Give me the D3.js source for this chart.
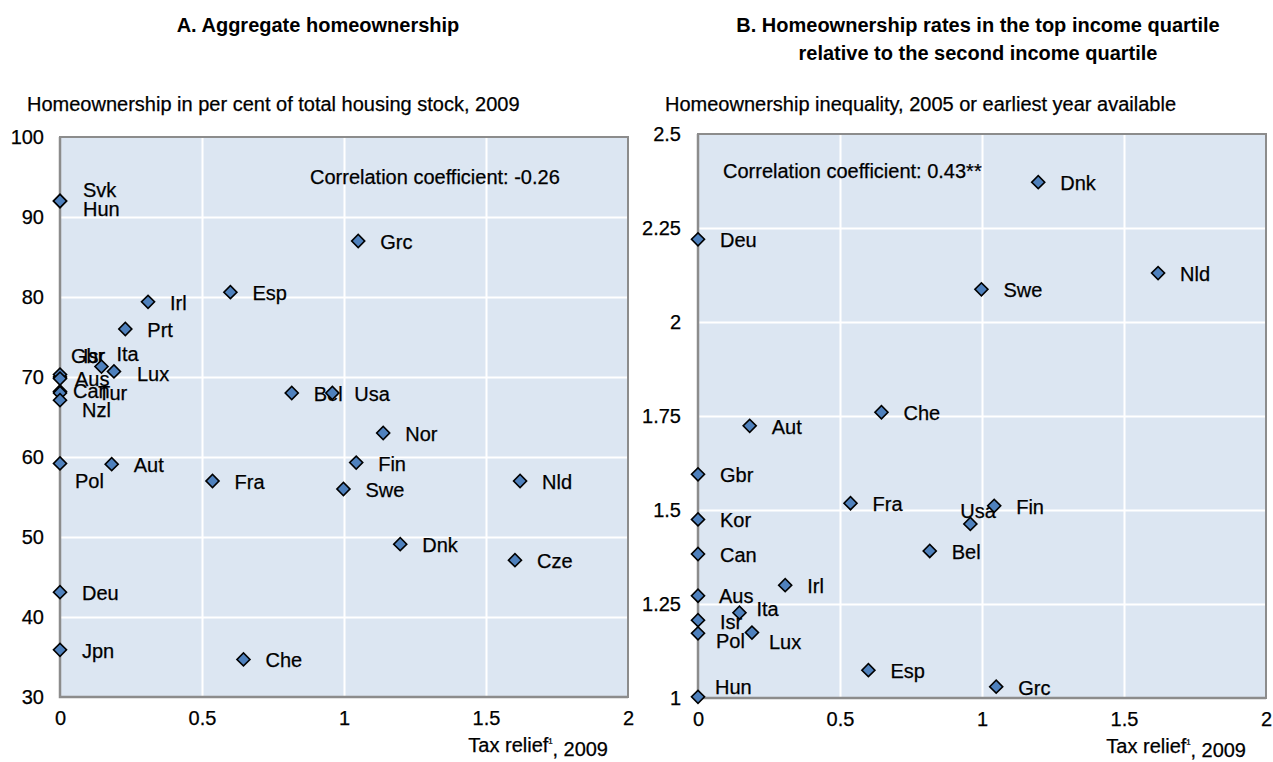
<!DOCTYPE html>
<html>
<head>
<meta charset="utf-8">
<script src="https://cdn.jsdelivr.net/npm/d3@7"></script>
<style>
    body { margin: 0; background: #fff; }
    svg { display: block; font-family: 'Liberation Sans', Arial, sans-serif; }
    .grid line { stroke: #fff; stroke-width: 2; }
    .grid .domain, .ticks .domain { display: none; }
    .ticks text { fill: #000; stroke: #000; stroke-width: 0.25; }
    .label { font-size: 20px; fill: #000; stroke: #000; stroke-width: 0.25; }
    .title { font-size: 20px; font-weight: bold; text-anchor: middle; }
    .ytitle, .xtitle, .corr { font-size: 20px; stroke: #000; stroke-width: 0.25; }
</style>
</head>
<body>
<svg id="chart" width="1273" height="762"></svg>
<script>
const xTicks = [0, 0.5, 1, 1.5, 2];

// Panel A: homeownership 2009 vs tax relief
const countriesA = ['Svk', 'Hun', 'Grc', 'Esp', 'Irl', 'Prt', 'Gbr', 'Isr', 'Aus', 'Ita', 'Lux', 'Can', 'Tur', 'Nzl',
    'Bel', 'Usa', 'Nor', 'Pol', 'Aut', 'Fin', 'Fra', 'Swe', 'Nld', 'Dnk', 'Cze', 'Deu', 'Jpn', 'Che'];
const taxReliefA = [0, 0, 1.05, 0.60, 0.31, 0.23, 0, 0, 0, 0.146, 0.19, 0, 0, 0,
    0.816, 0.959, 1.138, 0, 0.182, 1.043, 0.537, 0.998, 1.62, 1.198, 1.602, 0, 0, 0.646];
const ownershipA = [92, 92, 87, 80.6, 79.4, 76, 70, 70.3, 69.8, 71.3, 70.7, 68.2, 68, 67.1,
    68, 68, 63, 59.2, 59.1, 59.3, 57, 56, 57, 49.1, 47.1, 43.1, 35.9, 34.7];
const yTicksA = [30, 40, 50, 60, 70, 80, 90, 100];

// Panel B: homeownership inequality vs tax relief
const countriesB = ['Dnk', 'Deu', 'Nld', 'Swe', 'Che', 'Aut', 'Gbr', 'Fra', 'Usa', 'Fin', 'Kor', 'Bel', 'Can',
    'Irl', 'Aus', 'Ita', 'Isr', 'Pol', 'Lux', 'Esp', 'Hun', 'Grc'];
const taxReliefB = [1.198, 0, 1.62, 0.998, 0.646, 0.182, 0, 0.537, 0.959, 1.043, 0, 0.816, 0,
    0.307, 0, 0.146, 0, 0, 0.19, 0.60, 0, 1.05];
const inequalityB = [2.372, 2.22, 2.13, 2.087, 1.76, 1.724, 1.595, 1.518, 1.463, 1.511, 1.475, 1.391, 1.383,
    1.30, 1.272, 1.227, 1.207, 1.172, 1.174, 1.074, 1.003, 1.03];
const yTicksB = [1, 1.25, 1.5, 1.75, 2, 2.25, 2.5];

// label nudges [dx, dy] in px, default right of marker
const nudgeA = {
    Svk: [23, -11], Hun: [23, 8], Gbr: [11, -21], Isr: [23, -19], Ita: [15, -13], Aus: [15, 0],
    Can: [13, 0], Tur: [38, 0], Nzl: [22, 10], Lux: [23, 3], Pol: [15, 18]
};
const nudgeB = {
    Usa: [-10, -13], Ita: [17, -4], Pol: [18, 8], Lux: [17, 9], Hun: [17, -10], Aus: [21, 0], Isr: [22, 2]
};

const svg = d3.select('#chart');

const drawPanel = cfg => {
    const xScale = d3.scaleLinear()
        .domain([0, 2])
        .range([0, cfg.width]);

    const yScale = d3.scaleLinear()
        .domain(d3.extent(cfg.yTicks))
        .range([cfg.height, 0]);

    const g = svg.append('g')
        .attr('transform', `translate(${cfg.left},${cfg.top})`);

    g.append('rect')
        .attr('width', cfg.width)
        .attr('height', cfg.height)
        .attr('fill', '#dce6f2');

    g.append('g')
        .classed('grid', true)
        .attr('transform', `translate(0,${cfg.height})`)
        .call(d3.axisBottom(xScale)
            .tickValues(xTicks.slice(1, -1))
            .tickSize(-cfg.height)
            .tickFormat(''));

    g.append('g')
        .classed('grid', true)
        .call(d3.axisLeft(yScale)
            .tickValues(cfg.yTicks.slice(1, -1))
            .tickSize(-cfg.width)
            .tickFormat(''));

    g.append('rect')
        .attr('width', cfg.width)
        .attr('height', cfg.height)
        .attr('fill', 'none')
        .attr('stroke', '#8c8c8c')
        .attr('stroke-width', 2);

    g.append('path')
        .attr('d', `M0,0V${cfg.height}H${cfg.width}`)
        .attr('fill', 'none')
        .attr('stroke', '#8c8c8c')
        .attr('stroke-width', 2.5);

    g.append('g')
        .classed('ticks', true)
        .call(d3.axisLeft(yScale)
            .tickValues(cfg.yTicks)
            .tickSize(0)
            .tickPadding(cfg.yPad)
            .tickFormat(d => d))
        .attr('font-size', 20)
        .attr('font-family', null);

    g.append('g')
        .classed('ticks', true)
        .attr('transform', `translate(0,${cfg.height})`)
        .call(d3.axisBottom(xScale)
            .tickValues(xTicks)
            .tickSize(0)
            .tickPadding(14)
            .tickFormat(d => d))
        .attr('font-size', 20)
        .attr('font-family', null);

    const data = cfg.countries.map((c, i) => ({ name: c, x: cfg.xs[i], y: cfg.ys[i] }));

    const pts = g.selectAll('.pt')
        .data(data)
        .join('g')
            .classed('pt', true);

    pts.append('path')
        .attr('d', d3.symbol(d3.symbolSquare, 85))
        .attr('transform', d => `translate(${xScale(d.x)},${yScale(d.y)}) rotate(45)`)
        .attr('fill', '#4f81bd')
        .attr('stroke', '#000')
        .attr('stroke-width', 1.6);

    pts.append('text')
        .classed('label', true)
        .attr('x', d => xScale(d.x) + (cfg.nudge[d.name] || [22, 1])[0])
        .attr('y', d => yScale(d.y) + (cfg.nudge[d.name] || [22, 1])[1])
        .attr('dy', '0.35em')
        .text(d => d.name);

    g.append('text')
        .classed('corr', true)
        .attr('x', cfg.corrX)
        .attr('y', cfg.corrY)
        .attr('dy', '0.35em')
        .text(cfg.corr);

    const xt = g.append('text')
        .classed('xtitle', true)
        .attr('x', cfg.width - 20)
        .attr('y', cfg.height + 48)
        .attr('dy', '0.35em')
        .attr('text-anchor', 'end');
    xt.append('tspan').text('Tax relief');
    xt.append('tspan').attr('font-size', 12).attr('dy', '-0.45em').text('¹');
    xt.append('tspan').attr('dy', '0.45em').text(cfg.xTitleTail);

    g.append('text')
        .classed('ytitle', true)
        .attr('x', cfg.yTitleX - cfg.left)
        .attr('y', 104 - cfg.top)
        .attr('dy', '0.35em')
        .text(cfg.yTitle);
};

drawPanel({
    left: 60, top: 137, width: 568, height: 560,
    countries: countriesA, xs: taxReliefA, ys: ownershipA, yTicks: yTicksA, yPad: 16,
    nudge: nudgeA,
    corr: 'Correlation coefficient: -0.26', corrX: 250, corrY: 40,
    xTitleTail: ',  2009',
    yTitle: 'Homeownership in per cent of total housing stock, 2009', yTitleX: 27
});

drawPanel({
    left: 698, top: 134, width: 568, height: 564,
    countries: countriesB, xs: taxReliefB, ys: inequalityB, yTicks: yTicksB, yPad: 17,
    nudge: nudgeB,
    corr: 'Correlation coefficient: 0.43**', corrX: 25, corrY: 37,
    xTitleTail: ', 2009',
    yTitle: 'Homeownership inequality, 2005 or earliest year available', yTitleX: 665
});

svg.append('text')
    .classed('title', true)
    .attr('x', 318)
    .attr('y', 25)
    .attr('dy', '0.35em')
    .text('A. Aggregate homeownership');

svg.append('text')
    .classed('title', true)
    .attr('x', 978)
    .attr('y', 25)
    .attr('dy', '0.35em')
    .text('B. Homeownership rates in the top income quartile');

svg.append('text')
    .classed('title', true)
    .attr('x', 978)
    .attr('y', 53)
    .attr('dy', '0.35em')
    .text('relative to the second income quartile');
</script>
</body>
</html>
